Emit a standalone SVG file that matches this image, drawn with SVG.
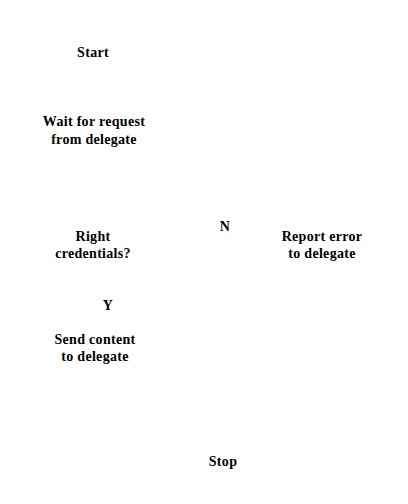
<svg xmlns="http://www.w3.org/2000/svg" width="408" height="504" viewBox="0 0 408 504">
<style>
text{font-family:"Liberation Serif","Times New Roman",serif;font-size:14px;font-weight:bold;fill:#000;text-anchor:middle;letter-spacing:0.3px}
</style>
<rect width="408" height="504" fill="#fff"/>
<g id="connectors"></g>
<g id="start"><text x="93" y="57">Start</text></g>
<g id="wait"><text x="94" y="126">Wait for request</text><text x="94" y="144">from delegate</text></g>
<g id="check"><text x="93" y="241">Right</text><text x="93" y="258">credentials?</text></g>
<g id="labelN"><text x="225" y="231">N</text></g>
<g id="report"><text x="322" y="241">Report error</text><text x="322" y="258">to delegate</text></g>
<g id="labelY"><text x="108" y="310">Y</text></g>
<g id="send"><text x="95" y="344">Send content</text><text x="95" y="361">to delegate</text></g>
<g id="stop"><text x="223" y="466">Stop</text></g>
</svg>
